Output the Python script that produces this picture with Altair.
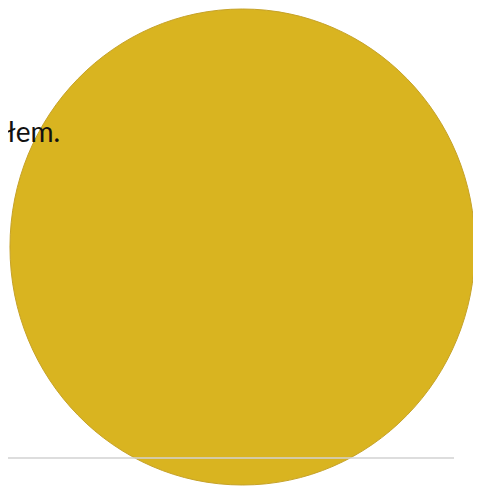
import altair as alt
import pandas as pd

# data
slices = ["disc"]
slice_values = [100]
labels = ["łem."]
rule_names = ["baseline"]

disc_df = pd.DataFrame({"slice": slices, "value": slice_values})
label_df = pd.DataFrame({"label": labels})
rule_df = pd.DataFrame({"name": rule_names})

ellipse_path = "M0.977,0 A0.977,1 0 1,1 -0.977,0 A0.977,1 0 1,1 0.977,0 Z"

disc = alt.Chart(disc_df).mark_point(
    shape=ellipse_path, size=476 * 476, filled=True, opacity=1,
    fill="#D9B420", stroke="#C6A228", strokeWidth=1,
).encode(
    x=alt.value(234.5),
    y=alt.value(239),
)

text = alt.Chart(label_df).mark_text(
    align="left", baseline="alphabetic", font="Lato", fontSize=28, color="#111111"
).encode(
    text="label:N",
    x=alt.value(-1),
    y=alt.value(134),
)

rule = alt.Chart(rule_df).mark_rule(color="#D2D2D2", strokeWidth=1.6).encode(
    x=alt.value(0),
    x2=alt.value(446),
    y=alt.value(450),
)

chart = alt.layer(disc, text, rule).properties(
    width=465, height=478, padding=0, autosize=alt.AutoSizeParams(type="none")
).configure_view(stroke=None)

chart.save("out.html", embed_options={"renderer": "svg", "actions": False})
